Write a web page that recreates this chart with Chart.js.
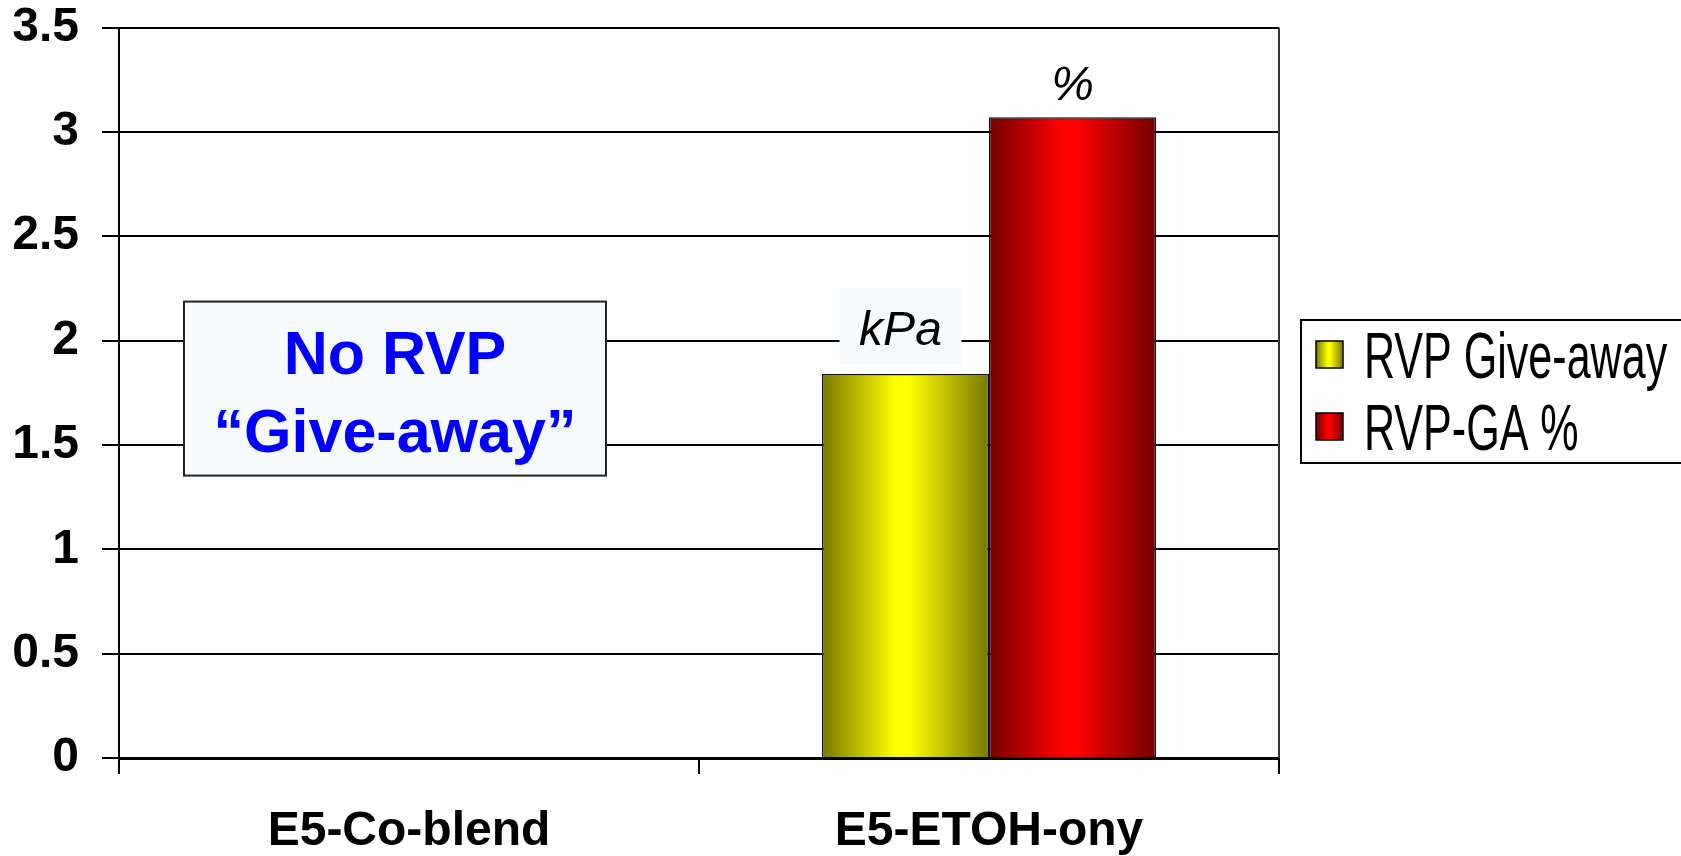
<!DOCTYPE html>
<html>
<head>
<meta charset="utf-8">
<title>RVP Give-away</title>
<script src="https://cdn.jsdelivr.net/npm/chart.js@4.4.1/dist/chart.umd.min.js"></script>
<style>
    html, body { margin: 0; padding: 0; background: #fff; }
    #wrap { width: 1681px; height: 856px; }
</style>
</head>
<body>
<div id="wrap"><canvas id="rvpChart" width="1681" height="856"></canvas></div>
<script>
// ── Data ─────────────────────────────────────────────────
const categories   = ['E5-Co-blend', 'E5-ETOH-ony'];
const seriesNames  = ['RVP Give-away', 'RVP-GA %'];
const rvpGiveAway  = [0, 1.84];
const rvpGaPercent = [0, 3.07];
const unitLabels   = ['kPa', '%'];
const yTicks       = [0, 0.5, 1, 1.5, 2, 2.5, 3, 3.5];
const noteLines    = ['No RVP', '\u201CGive-away\u201D'];

// ── Styles ───────────────────────────────────────────────
const FONT = '"Liberation Sans", Arial, sans-serif';
const CAT_PCT = 0.576;
const SHADES = [
    { dark: '#787800', bright: '#ffff00' },
    { dark: '#740000', bright: '#ff0000' }
];

Chart.defaults.font.family = FONT;
Chart.defaults.color = '#000';

function shadeGradient(ctx, left, width, shade) {
    const g = ctx.createLinearGradient(left, 0, left + width, 0);
    g.addColorStop(0, shade.dark);
    g.addColorStop(0.44, shade.bright);
    g.addColorStop(0.52, shade.bright);
    g.addColorStop(1, shade.dark);
    return g;
}

// bar fill: horizontal "cylinder" shading across each bar
function barFill(shade) {
    return function (c) {
        const chart = c.chart;
        const xs = chart.scales.x;
        if (!chart.chartArea || !xs || c.type !== 'data') return shade.bright;
        const groupW = (xs.width / categories.length) * CAT_PCT;
        const barW = groupW / chart.data.datasets.length;
        const left = xs.getPixelForValue(c.dataIndex) - groupW / 2 + c.datasetIndex * barW;
        return shadeGradient(chart.ctx, left, barW, shade);
    };
}

// ── Annotations: unit labels, note box, right frame, legend ──
const annotations = {
    id: 'annotations',
    afterDraw(chart) {
        const { ctx, chartArea, scales } = chart;
        ctx.save();

        // right frame line
        ctx.strokeStyle = '#333';
        ctx.lineWidth = 2;
        ctx.beginPath();
        ctx.moveTo(chartArea.right, chartArea.top);
        ctx.lineTo(chartArea.right, chartArea.bottom);
        ctx.stroke();

        // unit labels above the bars of the last category
        const last = categories.length - 1;
        const lift = [29, 17];
        chart.data.datasets.forEach((ds, i) => {
            const bar = chart.getDatasetMeta(i).data[last];
            if (!bar) return;
            ctx.font = 'italic 48px ' + FONT;
            ctx.textAlign = 'center';
            ctx.textBaseline = 'alphabetic';
            const tx = bar.x - (i === 0 ? 5 : 0);
            const ty = bar.y - lift[i];
            if (i === 0) {
                ctx.fillStyle = '#f6fafc';
                ctx.fillRect(tx - 61, ty - 57, 122, 76);
            }
            ctx.fillStyle = '#000';
            ctx.fillText(unitLabels[i], tx, ty);
        });

        // "No RVP Give-away" note box over the first category
        const cx = scales.x.getPixelForValue(0) - 14;
        const cy = scales.y.getPixelForValue(1.77);
        const bw = 422, bh = 174;
        ctx.fillStyle = '#f6fafc';
        ctx.fillRect(cx - bw / 2, cy - bh / 2, bw, bh);
        ctx.strokeStyle = '#222';
        ctx.lineWidth = 2;
        ctx.strokeRect(cx - bw / 2, cy - bh / 2, bw, bh);
        ctx.fillStyle = '#0000ff';
        ctx.font = 'bold 61px ' + FONT;
        ctx.textAlign = 'center';
        ctx.fillText(noteLines[0], cx, cy - 15);
        ctx.fillText(noteLines[1], cx, cy + 63);

        // legend box (runs off the right edge, as in the original)
        const lx = chartArea.right + 22;
        const ly = 320;
        ctx.fillStyle = '#fff';
        ctx.fillRect(lx, ly, 420, 143);
        ctx.strokeStyle = '#000';
        ctx.lineWidth = 2;
        ctx.strokeRect(lx, ly, 420, 143);
        chart.data.datasets.forEach((ds, i) => {
            const rowY = ly + 35 + i * 72;
            const sx = lx + 15;
            ctx.fillStyle = shadeGradient(ctx, sx, 27, SHADES[i]);
            ctx.fillRect(sx, rowY - 14, 27, 27);
            ctx.strokeStyle = '#000';
            ctx.lineWidth = 1.5;
            ctx.strokeRect(sx, rowY - 14, 27, 27);
            ctx.save();
            ctx.translate(lx + 63, rowY + 23);
            ctx.scale(0.673, 1);
            ctx.fillStyle = '#000';
            ctx.font = '64px ' + FONT;
            ctx.textAlign = 'left';
            ctx.fillText(ds.label, 0, 0);
            ctx.restore();
        });

        ctx.restore();
    }
};

const rvpChart = new Chart(document.getElementById('rvpChart').getContext('2d'), {
    type: 'bar',
    data: {
        labels: categories,
        datasets: [
            { label: seriesNames[0], data: rvpGiveAway,  backgroundColor: barFill(SHADES[0]), borderColor: '#111', borderWidth: 1.5 },
            { label: seriesNames[1], data: rvpGaPercent, backgroundColor: barFill(SHADES[1]), borderColor: '#111', borderWidth: 1.5 }
        ]
    },
    options: {
        responsive: false,
        animation: false,
        categoryPercentage: CAT_PCT,
        barPercentage: 1.0,
        layout: { padding: { top: 0, right: 402, left: 0, bottom: 0 } },
        plugins: {
            legend: { display: false },
            tooltip: { enabled: false }
        },
        scales: {
            x: {
                grid: { drawOnChartArea: false, drawTicks: true, tickLength: 16, color: '#000', lineWidth: 2, offset: true },
                border: { display: true, color: '#000', width: 3 },
                ticks: { font: { size: 48, weight: 'bold' }, color: '#000', padding: 29, maxRotation: 0 },
                afterFit: s => { s.height = 98; }
            },
            y: {
                min: 0,
                max: 3.5,
                afterBuildTicks: s => { s.ticks = yTicks.map(v => ({ value: v })); },
                grid: { color: '#000', lineWidth: 2, tickLength: 17 },
                border: { display: true, color: '#000', width: 2 },
                ticks: { font: { size: 48, weight: 'bold' }, color: '#000', padding: 23, callback: v => String(v) },
                // keep the plot top where the original has it (tick padding would push it down)
                afterFit: s => { s.width = 119; s.paddingTop = 27.5; s.paddingBottom = 0; }
            }
        }
    },
    plugins: [annotations]
});
</script>
</body>
</html>
